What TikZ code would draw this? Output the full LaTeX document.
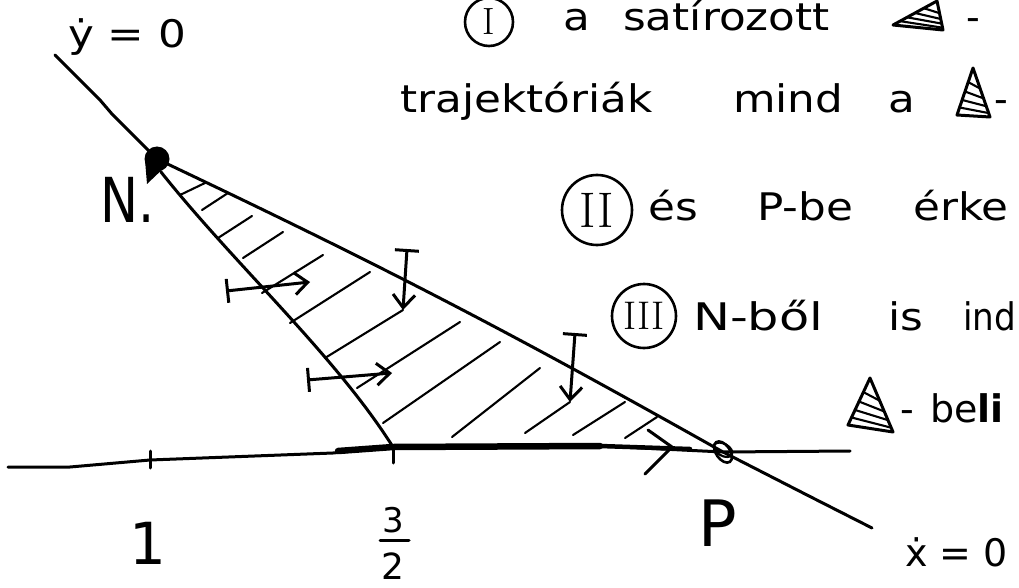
\documentclass[tikz,border=0pt]{standalone}
\usepackage{fontspec}
\newfontfamily\hand{DejaVu Sans}
\usetikzlibrary{arrows.meta,calc}
\newcommand\hws[1]{\scalebox{1.15}[1]{#1}}
\tikzset{
  ln/.style={line width=3pt, line cap=round, line join=round},
  hatchln/.style={line width=2.1pt, line cap=round},
  hw/.style={font=\hand\fontsize{38}{44}\selectfont, inner sep=0pt, anchor=base west},
  big/.style={font=\hand\fontsize{#1}{#1}\selectfont, inner sep=0pt},
  roman/.style={draw, circle, line width=2.6pt, inner sep=0pt, minimum size=#1},
  flow/.style={ln, {Bar[width=24pt]}-{Straight Barb[length=13pt,width=22pt]}}
}
\newcommand\hatchtri[3]{%
  \draw[ln] #1 -- #2 -- #3 -- cycle;
  \foreach \a/\b in {0.3/0.42,0.5/0.62,0.68/0.78,0.84/0.92}{%
    \draw[hatchln] ($#1!\a!#2$) -- ($#1!\b!#3$);}}
\begin{document}
\begin{tikzpicture}[x=1pt,y=-1pt]
\useasboundingbox (0,0) rectangle (1019,588);
\clip (0,0) rectangle (1019,588);
% key points
\coordinate (Ytop) at (55,55);
\coordinate (N) at (157,159);
\coordinate (P) at (723,452);
\coordinate (Xend) at (872,528);
\coordinate (Al) at (8,467);
\coordinate (Ar) at (850,451);
\coordinate (T1) at (150,460);
\coordinate (T32) at (393,447);
\coordinate (Nc) at (161,172);
% hatching
\foreach \xa/\ya/\xb/\yb in {180/195/205/183, 202/210/228/193, 218/238/252/216,
  243/258/283/232, 262/293/323/255, 290/323/370/272, 325/358/403/310,
  357/388/460/322, 383/423/500/342, 452/437/540/368, 525/433/570/402,
  573/435/625/402, 625/438/657/417}{\draw[hatchln] (\xa,\ya) -- (\xb,\yb);}
% y=0 / xdot=0 curve
\draw[ln] (Ytop) -- (100,100) -- (112,114) -- (N) to[bend left=2] (P) -- (807,495) -- (Xend);
% axis
\draw[ln] (Al) -- (70,467) -- (T1) -- (333,453) -- (T32) -- (600,446) -- (P) -- (Ar);
\draw[line width=6.5pt, line cap=round] (338,451) -- (T32) -- (600,446);
\draw[line width=4.5pt, line cap=round] (600,446) -- (690,449);
\draw[ln] (150,451) -- (150,468);
\draw[ln] (393,447) -- (393,463);
\draw[ln] (648,430) -- (672,447) -- (645,474);
% left boundary curve
\draw[ln] (Nc) .. controls (235,265) and (335,355) .. (T32);
% points N and P
\fill (N) circle (12.5pt);
\fill (147,184) -- (145,160) -- (168,164) -- cycle;
\draw[line width=2.6pt, rotate around={35:(P)}] (P) ellipse (7pt and 12pt);
\draw[line width=2.2pt, rotate around={60:(P)}] ($(P)+(2,-1)$) ellipse (6pt and 10pt);
% flow arrows
\coordinate (a1s) at (226,291); \coordinate (a1e) at (310,282);
\coordinate (a2s) at (307,380); \coordinate (a2e) at (392,373);
\coordinate (a3s) at (407,249); \coordinate (a3e) at (403,310);
\coordinate (a4s) at (575,333); \coordinate (a4e) at (570,402);
\draw[flow] (a1s) -- (a1e);
\draw[flow] (a2s) -- (a2e);
\draw[flow] (a3s) -- (a3e);
\draw[flow] (a4s) -- (a4e);
% labels on the graph
\node[big=38, anchor=base west] (ylab) at (68,48) {\hws{ẏ = 0}};
\node[big=62, anchor=base west] (Nlab) at (100,222) {\scalebox{0.82}[1]{N.}};
\node[big=58] (one) at (148,543) {1};
\node[big=34] (three) at (393,520) {3};
\node[big=36] (two) at (393,566) {2};
\draw[ln] (380,540) -- (409,540);
\node[big=64] (Plab) at (718,523) {P};
\node[big=38, anchor=base west] (xlab) at (905,566) {ẋ = 0};
% text block
\node[roman=48pt, font=\fontsize{38}{38}\selectfont] (c1) at (489,22) {I};
\node[hw] (w1a) at (563,31) {\hws{a}};
\node[hw] (w1b) at (623,31) {\hws{satírozott}};
\hatchtri{(937,1)}{(893,25)}{(943,30)}
\node[hw] (w1c) at (966,31) {-};
\node[hw] (w2a) at (400,113) {\hws{trajektóriák}};
\node[hw] (w2b) at (733,113) {\hws{mind}};
\node[hw] (w2c) at (888,113) {\hws{a}};
\hatchtri{(973,68)}{(957,115)}{(990,117)}
\node[hw] (w2d) at (994,113) {-};
\node[roman=70pt, font=\fontsize{50}{50}\selectfont] (c2) at (597,210) {II};
\node[hw] (w3a) at (648,220) {\hws{és}};
\node[hw] (w3b) at (757,220) {\hws{P-be}};
\node[hw] (w3c) at (913,220) {\hws{érke}};
\node[roman=64pt, font=\fontsize{40}{40}\selectfont] (c3) at (644,316) {III};
\node[hw] (w4a) at (693,330) {\scalebox{1.3}[1]{N-ből}};
\node[hw] (w4b) at (888,330) {\hws{is}};
\node[hw] (w4c) at (963,330) {\scalebox{0.9}[1]{ind}};
\hatchtri{(870,378)}{(848,425)}{(893,432)}
\node[hw] (w5a) at (900,422) {-};
\node[hw] (w5b) at (930,422) {be{\bfseries li}};
\end{tikzpicture}
\end{document}
